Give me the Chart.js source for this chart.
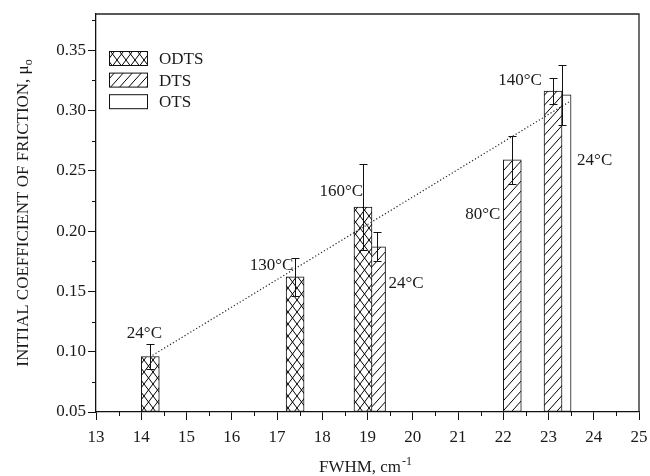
<!DOCTYPE html>
<html><head><meta charset="utf-8">
<script src="https://cdn.jsdelivr.net/npm/chart.js@4.4.1/dist/chart.umd.min.js"></script>
<style>html,body{margin:0;padding:0;background:#fff}#wrap{width:650px;height:476px}</style>
</head><body><div id="wrap"><canvas id="c" width="650" height="476"></canvas></div>
<script>
// ---- data ----
const seriesNames = ['ODTS', 'DTS', 'OTS'];
const odtsFwhm = [14.2, 17.4, 18.9];
const odtsMu   = [0.096, 0.162, 0.220];
const odtsErr  = [0.010, 0.016, 0.036];
const dtsFwhm  = [19.2, 22.2, 23.1];
const dtsMu    = [0.187, 0.259, 0.316];
const dtsErr   = [0.012, 0.020, 0.011];
const otsFwhm  = [23.3];
const otsMu    = [0.313];
const otsErr   = [0.025];
const trendFwhm = [14.25, 23.45];
const trendMu   = [0.097, 0.307];
const tempLabels = ['24°C', '130°C', '160°C', '24°C', '80°C', '140°C', '24°C'];
const tempLabelFwhm = [14.07, 16.88, 18.42, 19.85, 21.55, 22.37, 24.02];
const tempLabelMu   = [0.1154, 0.1717, 0.2325, 0.1568, 0.2139, 0.3252, 0.2586];
const xTickValues = [13, 14, 15, 16, 17, 18, 19, 20, 21, 22, 23, 24, 25];
const yTickValues = [0.05, 0.10, 0.15, 0.20, 0.25, 0.30, 0.35];
const xTitle = 'FWHM, cm';
const xTitleSup = '-1';
const yTitle = 'INITIAL COEFFICIENT OF FRICTION, μ';
const yTitleSub = 'o';

const FONT = '"Liberation Serif", "Times New Roman", serif';
const INK = '#1a1a1a';

function makePts(xs, ys) { return xs.map((v, i) => ({ x: v, y: ys[i] })); }

function crossPattern(ctx) {
  const w = 9, h = 12;
  const c = document.createElement('canvas'); c.width = w; c.height = h;
  const g = c.getContext('2d');
  g.fillStyle = '#fff'; g.fillRect(0, 0, w, h);
  g.strokeStyle = '#000'; g.lineWidth = 1;
  g.beginPath();
  for (let k = -1; k <= 1; k++) {
    g.moveTo(-1 + k * w, -h / w); g.lineTo(w + 1 + k * w, h + h / w);
    g.moveTo(w + 1 + k * w, -h / w); g.lineTo(-1 + k * w, h + h / w);
  }
  g.stroke();
  return ctx.createPattern(c, 'repeat');
}
function hatchPattern(ctx) {
  const w = 9, h = 10;
  const c = document.createElement('canvas'); c.width = w; c.height = h;
  const g = c.getContext('2d');
  g.fillStyle = '#fff'; g.fillRect(0, 0, w, h);
  g.strokeStyle = '#000'; g.lineWidth = 1;
  g.beginPath();
  for (let k = -1; k <= 1; k++) {
    const y0 = h + k * h;
    g.moveTo(-1, y0 + h / w); g.lineTo(w + 1, y0 - h - h / w);
  }
  g.stroke();
  return ctx.createPattern(c, 'repeat');
}

const canvas = document.getElementById('c');
const ctx0 = canvas.getContext('2d');
const patODTS = crossPattern(ctx0);
const patDTS = hatchPattern(ctx0);

const barCommon = { borderColor: '#111', borderWidth: 1, borderSkipped: false, barThickness: 18, base: 0.05, grouped: false };

const extras = {
  id: 'extras',
  afterDatasetsDraw(chart) {
    const { ctx, scales: { x, y } } = chart;
    ctx.save();
    ctx.strokeStyle = '#111'; ctx.lineWidth = 1;
    chart.data.datasets.forEach(ds => {
      if (!ds.errors) return;
      ds.data.forEach((p, j) => {
        const e = ds.errors[j];
        const px = Math.round(x.getPixelForValue(p.x)) + 0.5;
        const t = Math.round(y.getPixelForValue(p.y + e)) + 0.5;
        const b = Math.round(y.getPixelForValue(p.y - e)) + 0.5;
        ctx.beginPath();
        ctx.moveTo(px, t); ctx.lineTo(px, b);
        ctx.moveTo(px - 4, t); ctx.lineTo(px + 4, t);
        ctx.moveTo(px - 4, b); ctx.lineTo(px + 4, b);
        ctx.stroke();
      });
    });
    ctx.restore();
  },
  afterDraw(chart) {
    const { ctx, chartArea: a, scales: { x, y } } = chart;
    ctx.save();
    // frame top & right
    ctx.strokeStyle = '#222'; ctx.lineWidth = 1.3;
    ctx.beginPath();
    ctx.moveTo(a.left, a.top); ctx.lineTo(a.right, a.top); ctx.lineTo(a.right, a.bottom);
    ctx.stroke();
    // minor ticks
    ctx.lineWidth = 1; ctx.strokeStyle = '#111';
    ctx.beginPath();
    for (let i = 0; i < xTickValues.length - 1; i++) {
      const px = Math.round(x.getPixelForValue((xTickValues[i] + xTickValues[i + 1]) / 2)) + 0.5;
      ctx.moveTo(px, a.bottom); ctx.lineTo(px, a.bottom + 4);
    }
    for (let i = 0; i < yTickValues.length; i++) {
      const v = yTickValues[i] + 0.025;
      const py = Math.round(y.getPixelForValue(v)) + 0.5;
      ctx.moveTo(a.left, py); ctx.lineTo(a.left - 4, py);
    }
    ctx.stroke();
    // legend
    ctx.font = '17px ' + FONT; ctx.textBaseline = 'middle'; ctx.textAlign = 'left';
    chart.data.datasets.filter(ds => ds.type !== 'line').forEach((ds, r) => {
      const bx = 109.5, by = 51.5 + r * 21.6, bw = 38, bh = 14;
      ctx.fillStyle = ds.backgroundColor; ctx.fillRect(bx, by, bw, bh);
      ctx.strokeStyle = '#111'; ctx.lineWidth = 1; ctx.strokeRect(bx, by, bw, bh);
      ctx.fillStyle = INK; ctx.fillText(ds.label, 159, by + bh / 2 + 1);
    });
    // temperature labels
    ctx.fillStyle = INK;
    ctx.textAlign = 'center'; ctx.textBaseline = 'middle';
    tempLabels.forEach((t, i) => {
      ctx.fillText(t, x.getPixelForValue(tempLabelFwhm[i]), y.getPixelForValue(tempLabelMu[i]));
    });
    // x title with superscript
    ctx.textBaseline = 'alphabetic'; ctx.textAlign = 'left';
    ctx.font = '17px ' + FONT;
    const w1 = ctx.measureText(xTitle).width;
    ctx.font = '12px ' + FONT;
    const w2 = ctx.measureText(xTitleSup).width;
    const cx = (a.left + a.right) / 2 - 2;
    let sx = cx - (w1 + w2 + 1) / 2;
    ctx.font = '17px ' + FONT;
    ctx.fillText(xTitle, sx, 472);
    ctx.font = '12px ' + FONT;
    ctx.fillText(xTitleSup, sx + w1 + 1, 465);
    // y title with subscript
    ctx.save();
    ctx.translate(28, (a.top + a.bottom) / 2);
    ctx.rotate(-Math.PI / 2);
    ctx.font = '17px ' + FONT;
    const v1 = ctx.measureText(yTitle).width;
    ctx.font = '12px ' + FONT;
    const v2 = ctx.measureText(yTitleSub).width;
    let sy = -(v1 + v2) / 2;
    ctx.font = '17px ' + FONT;
    ctx.fillText(yTitle, sy, 0);
    ctx.font = '12px ' + FONT;
    ctx.fillText(yTitleSub, sy + v1, 4);
    ctx.restore();
    ctx.restore();
  }
};

new Chart(canvas, {
  type: 'bar',
  data: {
    datasets: [
      { type: 'line', label: 'trend', data: makePts(trendFwhm, trendMu), borderColor: '#222', borderWidth: 1.2,
        borderDash: [1.2, 2.2], pointRadius: 0, fill: false, order: 0, tension: 0 },
      Object.assign({ label: seriesNames[0], data: makePts(odtsFwhm, odtsMu), errors: odtsErr, backgroundColor: patODTS, order: 1 }, barCommon),
      Object.assign({ label: seriesNames[1], data: makePts(dtsFwhm, dtsMu), errors: dtsErr, backgroundColor: patDTS, order: 2 }, barCommon),
      Object.assign({ label: seriesNames[2], data: makePts(otsFwhm, otsMu), errors: otsErr, backgroundColor: '#fff', order: 3 }, barCommon)
    ]
  },
  options: {
    responsive: false, animation: false, devicePixelRatio: 1,
    layout: { padding: { top: 14, right: 11, left: 0, bottom: 0 } },
    plugins: { legend: { display: false }, tooltip: { enabled: false } },
    scales: {
      x: {
        type: 'linear', min: 13, max: 25, offset: false,
        afterBuildTicks: s => { s.ticks = xTickValues.map(v => ({ value: v })); },
        afterFit: s => { s.height = 64; s.paddingLeft = 0; s.paddingRight = 0; },
        grid: { display: true, offset: false, drawOnChartArea: false, tickLength: 8, tickColor: '#111', tickWidth: 1 },
        border: { display: true, color: '#111', width: 1.3 },
        ticks: { color: INK, font: { family: FONT, size: 17 }, padding: 7, maxRotation: 0, autoSkip: false,
          callback: v => String(v) }
      },
      y: {
        type: 'linear', min: 0.05, max: 0.38,
        afterBuildTicks: s => { s.ticks = yTickValues.map(v => ({ value: v })); },
        afterFit: s => { s.width = 96; s.paddingTop = 0; s.paddingBottom = 0; },
        grid: { display: true, drawOnChartArea: false, tickLength: 8, tickColor: '#111', tickWidth: 1 },
        border: { display: true, color: '#111', width: 1.3 },
        ticks: { color: INK, font: { family: FONT, size: 17 }, padding: 2, autoSkip: false,
          callback: v => v.toFixed(2) }
      }
    }
  },
  plugins: [extras]
});
</script></body></html>
